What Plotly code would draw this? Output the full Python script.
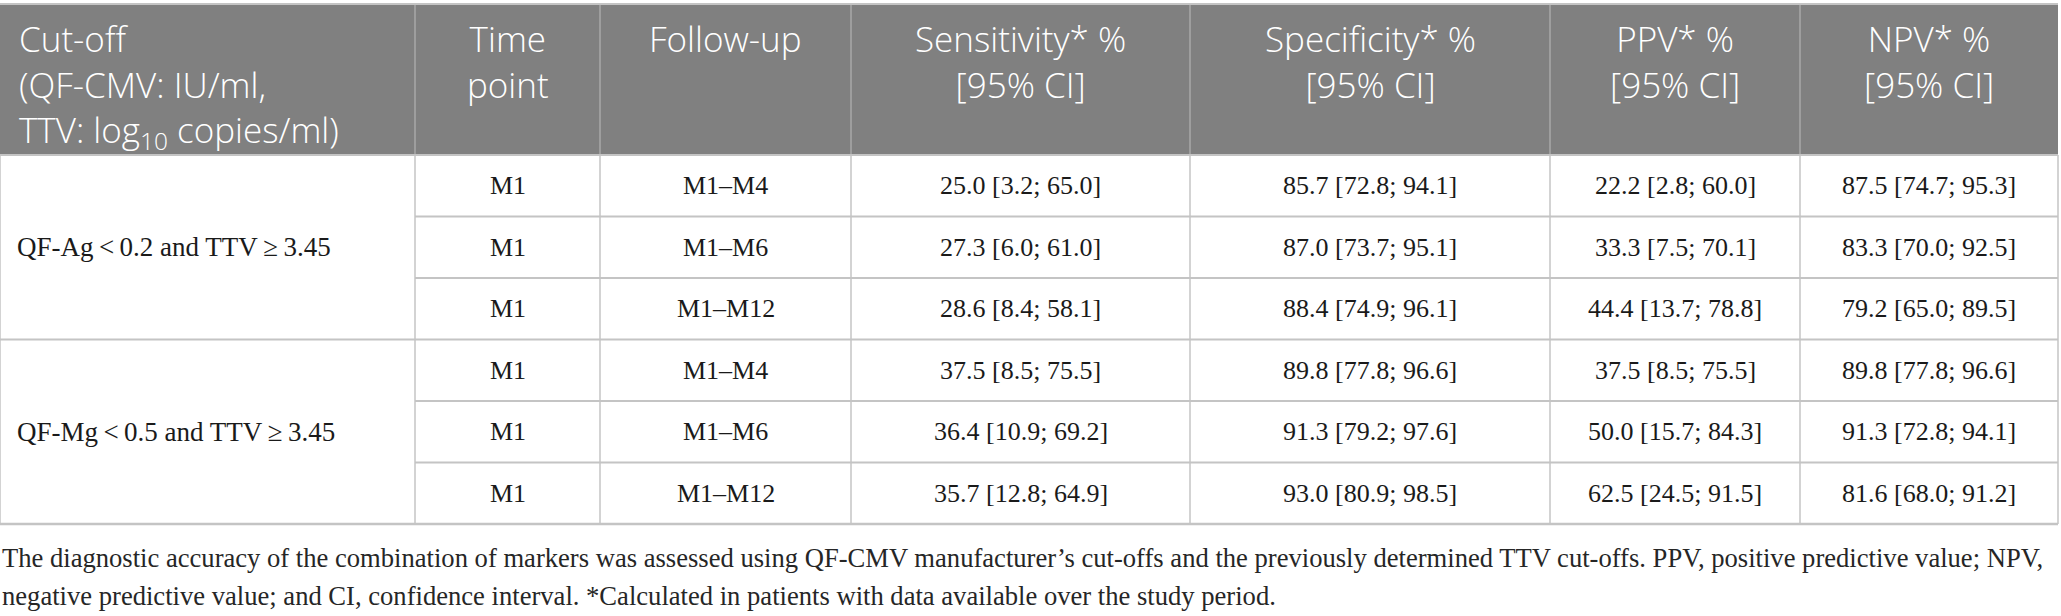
import plotly.graph_objects as go

# ---- table content ----
header_lines = [
    ["Cut-off", "(QF-CMV: IU/ml,", "TTV: log<sub>10</sub> copies/ml)"],
    ["Time", "point"],
    ["Follow-up"],
    ["Sensitivity* %", "[95% CI]"],
    ["Specificity* %", "[95% CI]"],
    ["PPV* %", "[95% CI]"],
    ["NPV* %", "[95% CI]"],
]
cutoffs = ["QF-Ag\u2009<\u20090.2 and TTV\u2009\u2265\u20093.45",
           "QF-Mg\u2009<\u20090.5 and TTV\u2009\u2265\u20093.45"]
time_point = ["M1", "M1", "M1", "M1", "M1", "M1"]
follow_up = ["M1\u2013M4", "M1\u2013M6", "M1\u2013M12", "M1\u2013M4", "M1\u2013M6", "M1\u2013M12"]
# (estimate, lower, upper)
sensitivity = [(25.0, 3.2, 65.0), (27.3, 6.0, 61.0), (28.6, 8.4, 58.1),
               (37.5, 8.5, 75.5), (36.4, 10.9, 69.2), (35.7, 12.8, 64.9)]
specificity = [(85.7, 72.8, 94.1), (87.0, 73.7, 95.1), (88.4, 74.9, 96.1),
               (89.8, 77.8, 96.6), (91.3, 79.2, 97.6), (93.0, 80.9, 98.5)]
ppv = [(22.2, 2.8, 60.0), (33.3, 7.5, 70.1), (44.4, 13.7, 78.8),
       (37.5, 8.5, 75.5), (50.0, 15.7, 84.3), (62.5, 24.5, 91.5)]
npv = [(87.5, 74.7, 95.3), (83.3, 70.0, 92.5), (79.2, 65.0, 89.5),
       (89.8, 77.8, 96.6), (91.3, 72.8, 94.1), (81.6, 68.0, 91.2)]
footnote = ["The diagnostic accuracy of the combination of markers was assessed using QF-CMV manufacturer\u2019s cut-offs and the previously determined TTV cut-offs. PPV, positive predictive value; NPV,",
            "negative predictive value; and CI, confidence interval. *Calculated in patients with data available over the study period."]

# ---- layout geometry (pixel units of the axes) ----
W, H = 2061, 616
col_edges = [0, 415, 600, 851, 1190, 1550, 1800, 2058]
top, head_bottom, row_h = 4, 155, 61.5
n_rows = len(follow_up)
group = 3

HEAD_BG = "#808080"
HEAD_LINE = "#a9a9a9"
GRID = "#c4c4c4"
HEAD_FONT = dict(family="Open Sans", size=35, color="white", weight=300)
BODY_FONT = dict(family="Liberation Serif", size=26, color="#1a1a1a")
LABEL_FONT = dict(family="Liberation Serif", size=27, color="#1a1a1a")
NOTE_FONT = dict(family="Liberation Serif", size=26.6, color="#262626")


def fmt(t):
    return f"{t[0]:.1f} [{t[1]:.1f}; {t[2]:.1f}]"


row_y = [head_bottom + i * row_h for i in range(n_rows + 1)]
bottom = row_y[-1]

shapes = []
annotations = []

# header band
shapes.append(dict(type="rect", xref="x", yref="y", x0=col_edges[0], x1=col_edges[-1],
                   y0=top, y1=head_bottom, fillcolor=HEAD_BG, line_width=0, layer="below"))
for x in col_edges[1:-1]:
    shapes.append(dict(type="line", xref="x", yref="y", x0=x, x1=x, y0=top, y1=head_bottom,
                       line=dict(color=HEAD_LINE, width=1.5)))
shapes.append(dict(type="line", xref="x", yref="y", x0=col_edges[0], x1=col_edges[-1],
                   y0=top, y1=top, line=dict(color=GRID, width=2)))

# body grid
for x in col_edges:
    shapes.append(dict(type="line", xref="x", yref="y", x0=x, x1=x, y0=head_bottom, y1=bottom,
                       line=dict(color=GRID, width=1.5)))
for i, y in enumerate(row_y):
    x0 = col_edges[0] if i % group == 0 else col_edges[1]
    shapes.append(dict(type="line", xref="x", yref="y", x0=x0, x1=col_edges[-1], y0=y, y1=y,
                       line=dict(color=GRID, width=2.5 if i == n_rows else 2)))

# header text
for c, lines in enumerate(header_lines):
    left = c == 0
    annotations.append(dict(
        xref="x", yref="y", text="<br>".join(lines), showarrow=False, font=HEAD_FONT,
        x=col_edges[0] + 17 if left else (col_edges[c] + col_edges[c + 1]) / 2,
        xanchor="left" if left else "center", align="left" if left else "center",
        y=13, yanchor="top"))

# merged cut-off cells
for g, label in enumerate(cutoffs):
    yc = (row_y[g * group] + row_y[(g + 1) * group]) / 2
    annotations.append(dict(xref="x", yref="y", x=col_edges[0] + 15, y=yc, text=label,
                            showarrow=False, xanchor="left", yanchor="middle", font=LABEL_FONT))

# body cells
columns = [time_point, follow_up,
           [fmt(v) for v in sensitivity], [fmt(v) for v in specificity],
           [fmt(v) for v in ppv], [fmt(v) for v in npv]]
for c, col in enumerate(columns, start=1):
    xc = (col_edges[c] + col_edges[c + 1]) / 2
    for r, txt in enumerate(col):
        annotations.append(dict(xref="x", yref="y", x=xc, y=(row_y[r] + row_y[r + 1]) / 2,
                                text=txt, showarrow=False, xanchor="center", yanchor="middle",
                                font=BODY_FONT))

# footnote
for k, txt in enumerate(footnote):
    annotations.append(dict(xref="x", yref="y", x=0, y=558 + k * 38, text=txt,
                            showarrow=False, xanchor="left", yanchor="middle", font=NOTE_FONT))

fig = go.Figure()
fig.add_trace(go.Scatter(x=[0, W], y=[0, H], mode="markers", marker=dict(opacity=0),
                         hoverinfo="skip", showlegend=False))
fig.update_layout(
    width=W, height=H, margin=dict(l=0, r=0, t=0, b=0),
    paper_bgcolor="white", plot_bgcolor="white",
    xaxis=dict(range=[0, W], visible=False, fixedrange=True),
    yaxis=dict(range=[H, 0], visible=False, fixedrange=True),
    shapes=shapes, annotations=annotations, showlegend=False,
)
# drop the default page margin so the figure sits at the window's top-left corner
fig.write_html("out.html", config={"displayModeBar": False},
               post_script="document.body.style.margin = '0'; document.body.style.overflow = 'hidden';")
